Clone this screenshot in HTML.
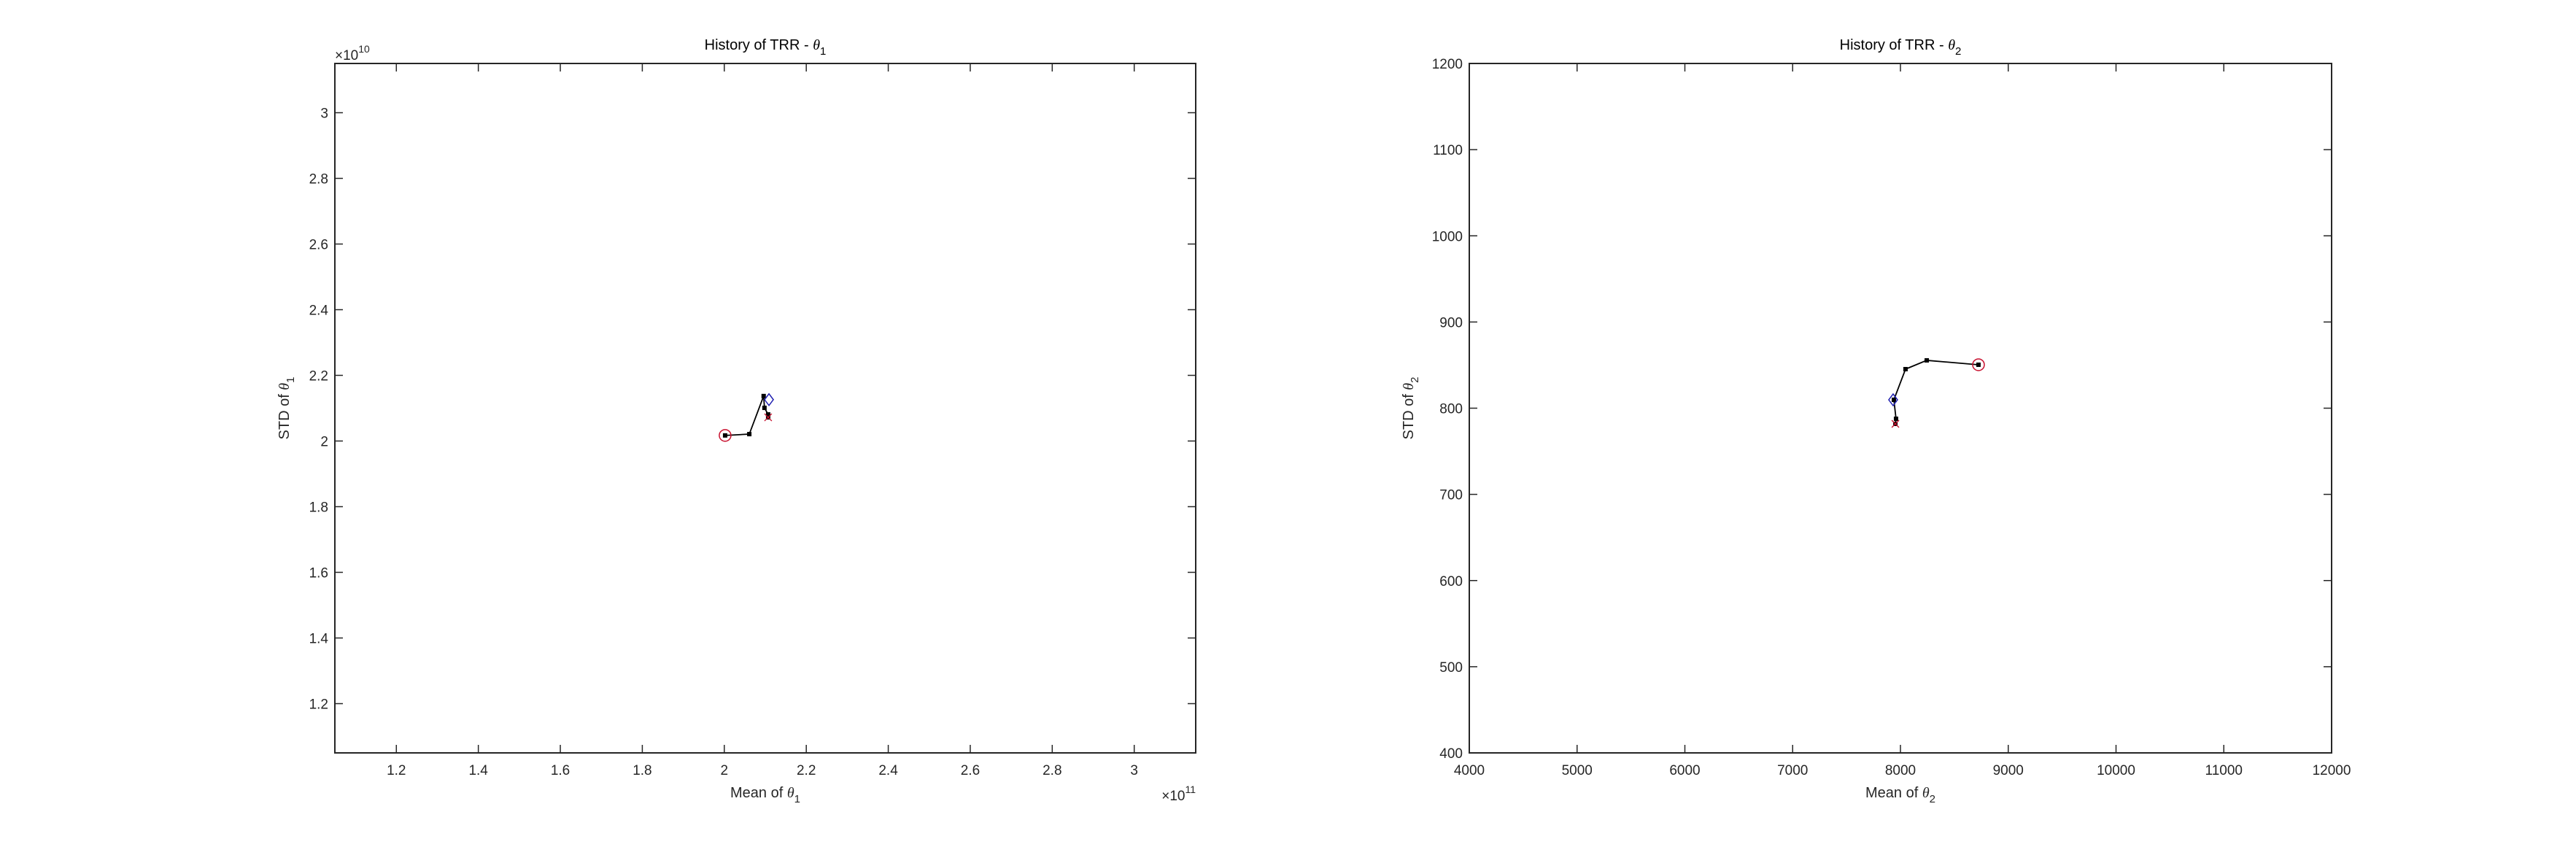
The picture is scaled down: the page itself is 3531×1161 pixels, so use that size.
<!DOCTYPE html>
<html><head><meta charset="utf-8"><style>
html,body{margin:0;padding:0;background:#fff;}
svg{display:block;font-family:"Liberation Sans",sans-serif;}
</style></head><body>
<svg id="fig" width="3531" height="1161" viewBox="0 0 3531 1161">
<rect width="3531" height="1161" fill="#fff"/>
</svg>
<script>
// Plot 1 data (theta1)
const p1Mean = [2.002, 2.061, 2.096, 2.098, 2.107, 2.107];
const p1Std  = [2.017, 2.021, 2.137, 2.101, 2.081, 2.072];
const p1Diamond = [2.109, 2.126];
const p1XTicks = [1.2,1.4,1.6,1.8,2,2.2,2.4,2.6,2.8,3];
const p1YTicks = [1.2,1.4,1.6,1.8,2,2.2,2.4,2.6,2.8,3];
// Plot 2 data (theta2)
const p2Mean = [8724, 8244, 8047, 7939, 7959, 7953];
const p2Std  = [850.4, 855.5, 845.3, 809.7, 787.7, 781.8];
const p2Diamond = [7932, 809.7];
const p2XTicks = [4000,5000,6000,7000,8000,9000,10000,11000,12000];
const p2YTicks = [400,500,600,700,800,900,1000,1100,1200];

const NS='http://www.w3.org/2000/svg';
const svg=document.getElementById('fig');
function mk(tag,attrs,parent){const e=document.createElementNS(NS,tag);for(const k in attrs)e.setAttribute(k,attrs[k]);(parent||svg).appendChild(e);return e;}

function plot(cfg){
  const g=mk('g',{});
  
  
  const L=cfg.L,R=cfg.R,T=87,B=1032;
  const sx=v=>L+(v-cfg.xmin)/(cfg.xmax-cfg.xmin)*(R-L);
  const sy=v=>B-(v-cfg.ymin)/(cfg.ymax-cfg.ymin)*(B-T);
  const box=mk('rect',{x:L,y:T,width:R-L,height:B-T,fill:'none',stroke:'#262626','stroke-width':2},g);
  
  
  cfg.xt.forEach(v=>{
    const x=sx(v);
    mk('line',{x1:x,y1:B,x2:x,y2:B-11,stroke:'#262626','stroke-width':1.5},g);
    mk('line',{x1:x,y1:T,x2:x,y2:T+11,stroke:'#262626','stroke-width':1.5},g);
    const t=mk('text',{x:x,y:B+30,'text-anchor':'middle','font-size':19,fill:'#262626'},g);
    t.textContent=String(v);
    
    
  });
  cfg.yt.forEach(v=>{
    const y=sy(v);
    mk('line',{x1:L,y1:y,x2:L+11,y2:y,stroke:'#262626','stroke-width':1.5},g);
    mk('line',{x1:R,y1:y,x2:R-11,y2:y,stroke:'#262626','stroke-width':1.5},g);
    const t=mk('text',{x:L-9,y:y+7,'text-anchor':'end','font-size':19,fill:'#262626'},g);
    t.textContent=String(v);
    
    
  });
  const title=mk('text',{x:(L+R)/2,y:68,'text-anchor':'middle','font-size':20,fill:'#000'},g);
  title.innerHTML='History of TRR - <tspan font-family="Liberation Serif" font-style="italic">θ</tspan><tspan dy="7" font-size="15">'+cfg.idx+'</tspan>';
  
  
  const xl=mk('text',{x:(L+R)/2,y:1093,'text-anchor':'middle','font-size':20,fill:'#262626'},g);
  xl.innerHTML='Mean of <tspan font-family="Liberation Serif" font-style="italic">θ</tspan><tspan dy="7" font-size="15">'+cfg.idx+'</tspan>';
  
  
  const yl=mk('text',{x:0,y:0,'text-anchor':'middle','font-size':20,fill:'#262626',transform:'translate('+cfg.ylx+','+(T+B)/2+') rotate(-90)'},g);
  yl.innerHTML='STD of <tspan font-family="Liberation Serif" font-style="italic">θ</tspan><tspan dy="7" font-size="15">'+cfg.idx+'</tspan>';
  
  
  if(cfg.yexp){
    const e=mk('text',{x:L,y:82,'font-size':19,fill:'#262626'},g);
    e.innerHTML='×10<tspan dy="-10" font-size="14">'+cfg.yexp+'</tspan>';
    
    
  }
  if(cfg.xexp){
    const e=mk('text',{x:R,y:1097,'text-anchor':'end','font-size':19,fill:'#262626'},g);
    e.innerHTML='×10<tspan dy="-10" font-size="14">'+cfg.xexp+'</tspan>';
    
    
  }
  const pts=cfg.mx.map((v,i)=>sx(v)+','+sy(cfg.my[i])).join(' ');
  const line=mk('polyline',{points:pts,fill:'none',stroke:'#000','stroke-width':1.8},g);
  
  
  cfg.mx.forEach((v,i)=>{
    const m=mk('rect',{x:sx(v)-3,y:sy(cfg.my[i])-3,width:6,height:6,fill:'#000'},g);
    
    
  });
  const c=mk('circle',{cx:sx(cfg.mx[0]),cy:sy(cfg.my[0]),r:8,fill:'none',stroke:'#c8102e','stroke-width':1.5},g);
  
  
  const dx=sx(cfg.dia[0]),dy=sy(cfg.dia[1]);
  const d=mk('polygon',{points:(dx-6)+','+dy+' '+dx+','+(dy-8)+' '+(dx+6)+','+dy+' '+dx+','+(dy+8),fill:'none',stroke:'#1f1fb0','stroke-width':1.5},g);
  
  
  const n=cfg.mx.length-1,ex=sx(cfg.mx[n]),ey=sy(cfg.my[n]);
  const xm=mk('path',{d:'M'+(ex-5)+' '+(ey-5)+'L'+(ex+5)+' '+(ey+5)+'M'+(ex-5)+' '+(ey+5)+'L'+(ex+5)+' '+(ey-5),stroke:'#c8102e','stroke-width':1.3},g);
  
  
}
plot({name:'plot-theta1',idx:1,L:459,R:1639,xmin:1.05,xmax:3.15,ymin:1.05,ymax:3.15,xt:p1XTicks,yt:p1YTicks,mx:p1Mean,my:p1Std,dia:p1Diamond,yexp:10,xexp:11,ylx:396});
plot({name:'plot-theta2',idx:2,L:2014,R:3196,xmin:4000,xmax:12000,ymin:400,ymax:1200,xt:p2XTicks,yt:p2YTicks,mx:p2Mean,my:p2Std,dia:p2Diamond,ylx:1937});
</script>
</body></html>
